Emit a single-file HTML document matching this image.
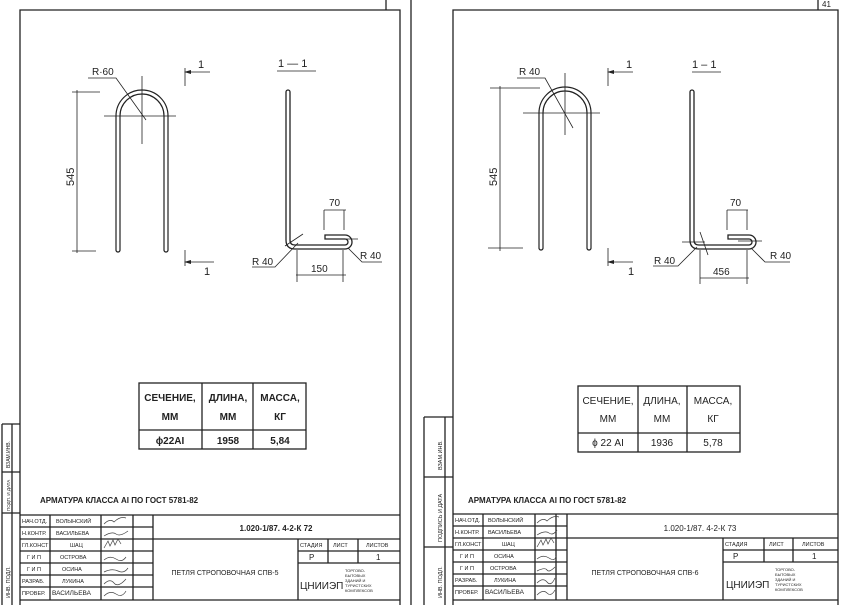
<!DOCTYPE html>
<html><head><meta charset="utf-8"><style>
body{margin:0;background:#fff;}
svg{display:block;font-family:"Liberation Sans",sans-serif;}
</style></head><body>
<svg width="841" height="605" viewBox="0 0 841 605" xmlns="http://www.w3.org/2000/svg">
<rect width="841" height="605" fill="#fff"/>
<g stroke="#222" fill="none" stroke-width="1.3">
<path d="M20 605 V10 H400 V605"/>
<path d="M411 0 V605"/>
<path d="M386 0 V10"/>
<path d="M2 424 H20 M2 472 H20 M2 513 H20 M2 424 V605 M12 424 V605"/>
<path d="M116 250 V116 A26 26 0 0 1 168 116 V250" stroke-width="1.2"/>
<path d="M120 250 V116 A22 22 0 0 1 164 116 V250" stroke-width="1.2"/>
<path d="M116 250 A2 2 0 0 0 120 250 M164 250 A2 2 0 0 0 168 250"/>
<g stroke-width="0.8">
<path d="M104 116 H176 M142 76 V144"/>
<path d="M77 90 V253 M72 92 H100 M72 251 H96"/>
<path d="M88 78 H116 L146 120"/>
<path d="M185 68 V86 M185 72 H210 M185 250 V266 M185 262 H214"/>
<path d="M277 71 H316"/>
<path d="M324 210 H346 M324 210 V230 M344 210 V230"/>
<path d="M296 275 H346 M297 250 V282 M343 250 V282"/>
<path d="M252 267 H275 L298 243 M285 246 L303 234"/>
<path d="M348 248 L362 262 H382"/>
<path d="M336 239 H358"/>
</g>
<path d="M286 92 V240 Q286 249 295 249 H345 A7 7 0 0 0 345 235 H325 V239 H345 A3 3 0 0 1 345 245 H295 Q290 245 290 240 V92 A2 2 0 0 0 286 92"/>
<rect x="139" y="383" width="167" height="66"/>
<path d="M139 430 H306 M202 383 V449 M253 383 V449"/>
<path d="M20 515 H400 M20 527 H153 M20 539 H400 M20 551 H153 M20 563 H153 M20 575 H153 M20 587 H153"/>
<path d="M50 515 V600 M101 515 V600 M133 515 V600 M153 515 V600"/>
<path d="M298 539 V600 M298 551 H400 M298 563 H400 M328 539 V563 M358 539 V563 M20 600 H400"/>
<path d="M453 605 V10 H838 V605"/>
<path d="M818 0 V10"/>
<path d="M424 417 H453 M424 477 H453 M424 547 H453 M424 417 V605 M445 417 V605"/>
<path d="M539 248 V113 A26 26 0 0 1 591 113 V248" stroke-width="1.2"/>
<path d="M543 248 V113 A22 22 0 0 1 587 113 V248" stroke-width="1.2"/>
<path d="M539 248 A2 2 0 0 0 543 248 M587 248 A2 2 0 0 0 591 248"/>
<g stroke-width="0.8">
<path d="M523 113 H600 M565 73 V135"/>
<path d="M500 86 V251 M490 88 H540 M488 248 H523"/>
<path d="M517 78 H545 L573 128"/>
<path d="M608 68 V86 M608 72 H633 M608 248 V266 M608 262 H633"/>
<path d="M692 72 H721"/>
<path d="M727 210 H748 M727 210 V230 M747 210 V230"/>
<path d="M700 278 H749 M700 250 V284 M747 250 V284"/>
<path d="M653 266 H678 L697 247 M682 242 L705 242 M700 232 L708 255"/>
<path d="M751 248 L765 262 H790"/>
<path d="M738 241 H762"/>
</g>
<path d="M690 92 V240 Q690 249 699 249 H749 A7 7 0 0 0 749 235 H728 V239 H749 A3 3 0 0 1 749 245 H699 Q694 245 694 240 V92 A2 2 0 0 0 690 92"/>
<rect x="578" y="386" width="162" height="66"/>
<path d="M578 433 H740 M638 386 V452 M687 386 V452"/>
<path d="M453 514 H838 M453 526 H567 M453 538 H838 M453 550 H567 M453 562 H567 M453 574 H567 M453 586 H567"/>
<path d="M483 514 V600 M535 514 V600 M556 514 V600 M567 514 V600"/>
<path d="M723 538 V600 M723 550 H838 M723 562 H838 M764 538 V562 M793 538 V562 M453 600 H838"/>
</g>
<g fill="#222">
<path d="M184 72 l7 -2 v4z M184 262 l7 -2 v4z M607 72 l7 -2 v4z M607 262 l7 -2 v4z"/>
</g>
<g fill="#222" font-size="10">
<text x="92" y="75" font-size="10">R·60</text>
<text transform="translate(74 186) rotate(-90)" font-size="11">545</text>
<text x="198" y="68" font-size="11">1</text>
<text x="204" y="275" font-size="11">1</text>
<text x="278" y="67" font-size="11">1 — 1</text>
<text x="329" y="206" font-size="10">70</text>
<text x="311" y="272" font-size="10">150</text>
<text x="252" y="265" font-size="10">R 40</text>
<text x="360" y="259" font-size="10">R 40</text>
<text x="519" y="75" font-size="10">R  40</text>
<text transform="translate(497 186) rotate(-90)" font-size="11">545</text>
<text x="626" y="68" font-size="11">1</text>
<text x="628" y="275" font-size="11">1</text>
<text x="692" y="68" font-size="11">1 – 1</text>
<text x="730" y="206" font-size="10">70</text>
<text x="713" y="275" font-size="10">456</text>
<text x="654" y="264" font-size="10">R 40</text>
<text x="770" y="259" font-size="10">R 40</text>
<text x="822" y="7" font-size="8">41</text>
</g>
<g fill="#222" font-size="10" text-anchor="middle" font-weight="bold">
<text x="170" y="401">СЕЧЕНИЕ,</text><text x="170" y="420">ММ</text>
<text x="228" y="401">ДЛИНА,</text><text x="228" y="420">ММ</text>
<text x="280" y="401">МАССА,</text><text x="280" y="420">КГ</text>
<text x="170" y="444">ϕ22АI</text><text x="228" y="444">1958</text><text x="280" y="444">5,84</text>
<text x="608" y="404" font-weight="normal">СЕЧЕНИЕ,</text><text x="608" y="422" font-weight="normal">ММ</text>
<text x="662" y="404" font-weight="normal">ДЛИНА,</text><text x="662" y="422" font-weight="normal">ММ</text>
<text x="713" y="404" font-weight="normal">МАССА,</text><text x="713" y="422" font-weight="normal">КГ</text>
<text x="608" y="446" font-weight="normal">ϕ 22 АI</text><text x="662" y="446" font-weight="normal">1936</text><text x="713" y="446" font-weight="normal">5,78</text>
</g>
<g fill="#222" font-size="8" font-weight="bold">
<text x="40" y="503">АРМАТУРА КЛАССА АI ПО ГОСТ 5781-82</text>
<text x="468" y="503">АРМАТУРА КЛАССА АI ПО ГОСТ 5781-82</text>
<text x="276" y="531" text-anchor="middle">1.020-1/87. 4-2-К 72</text>
<text x="700" y="531" text-anchor="middle" font-weight="normal">1.020-1/87. 4-2-К 73</text>
<text x="225" y="575" text-anchor="middle" font-weight="normal" font-size="7">ПЕТЛЯ СТРОПОВОЧНАЯ СПВ-5</text>
<text x="645" y="575" text-anchor="middle" font-weight="normal" font-size="7">ПЕТЛЯ СТРОПОВОЧНАЯ СПВ-6</text>
</g>
<g fill="#222" font-size="5.5">
<text x="22" y="523">НАЧ.ОТД.</text><text x="56" y="523">ВОЛЫНСКИЙ</text>
<text x="22" y="535">Н.КОНТР.</text><text x="56" y="535">ВАСИЛЬЕВА</text>
<text x="22" y="547">ГЛ.КОНСТ</text><text x="70" y="547">ШАЦ</text>
<text x="27" y="559">Г И П</text><text x="60" y="559">ОСТРОВА</text>
<text x="27" y="571">Г И П</text><text x="62" y="571">ОСИНА</text>
<text x="22" y="583">РАЗРАБ.</text><text x="62" y="583">ЛУКИНА</text>
<text x="22" y="595">ПРОВЕР.</text><text x="52" y="595" font-size="6.5">ВАСИЛЬЕВА</text>
<text x="300" y="547">СТАДИЯ</text><text x="333" y="547">ЛИСТ</text><text x="366" y="547">ЛИСТОВ</text>
<text x="309" y="560" font-size="8">Р</text><text x="376" y="560" font-size="8">1</text>
<text x="300" y="589" font-size="10">ЦНИИЭП</text>
<text x="345" y="572" font-size="4">ТОРГОВО-</text><text x="345" y="577" font-size="4">БЫТОВЫХ</text><text x="345" y="582" font-size="4">ЗДАНИЙ И</text><text x="345" y="587" font-size="4">ТУРИСТСКИХ</text><text x="345" y="592" font-size="4">КОМПЛЕКСОВ</text>
<text x="455" y="522">НАЧ.ОТД.</text><text x="488" y="522">ВОЛЫНСКИЙ</text>
<text x="455" y="534">Н.КОНТР.</text><text x="488" y="534">ВАСИЛЬЕВА</text>
<text x="455" y="546">ГЛ.КОНСТ</text><text x="502" y="546">ШАЦ</text>
<text x="460" y="558">Г И П</text><text x="494" y="558">ОСИНА</text>
<text x="460" y="570">Г И П</text><text x="490" y="570">ОСТРОВА</text>
<text x="455" y="582">РАЗРАБ.</text><text x="494" y="582">ЛУКИНА</text>
<text x="455" y="594">ПРОВЕР.</text><text x="485" y="594" font-size="6.5">ВАСИЛЬЕВА</text>
<text x="725" y="546">СТАДИЯ</text><text x="769" y="546">ЛИСТ</text><text x="802" y="546">ЛИСТОВ</text>
<text x="733" y="559" font-size="8">Р</text><text x="812" y="559" font-size="8">1</text>
<text x="726" y="588" font-size="10">ЦНИИЭП</text>
<text x="775" y="571" font-size="4">ТОРГОВО-</text><text x="775" y="576" font-size="4">БЫТОВЫХ</text><text x="775" y="581" font-size="4">ЗДАНИЙ И</text><text x="775" y="586" font-size="4">ТУРИСТСКИХ</text><text x="775" y="591" font-size="4">КОМПЛЕКСОВ</text>
<text transform="translate(442 470) rotate(-90)" font-size="5.5">ВЗАМ.ИНВ.</text>
<text transform="translate(442 542) rotate(-90)" font-size="5.5">ПОДПИСЬ И ДАТА</text>
<text transform="translate(442 598) rotate(-90)" font-size="5.5">ИНВ. ПОДЛ.</text>
<text transform="translate(10 468) rotate(-90)" font-size="5">ВЗАМ.ИНВ.</text>
<text transform="translate(10 511) rotate(-90)" font-size="4.5">ПОДП. И ДАТА</text>
<text transform="translate(10 598) rotate(-90)" font-size="5.5">ИНВ. ПОДЛ.</text>
</g>
<g stroke="#444" stroke-width="0.7" fill="none">
<path d="M104 524 q6 -6 10 -2 q6 -6 12 -4 M104 536 q8 -5 12 -2 t12 -3 M104 548 l4 -7 l2 5 l3 -6 l2 5 l3 -6 l3 5 M104 560 q6 -5 12 -1 t10 -2 M104 572 q8 -4 14 -1 t10 -3 M104 584 q6 -6 10 -1 t12 -4 M104 596 q6 -6 12 -2 t10 -3"/>
<path d="M537 523 q6 -6 10 -2 q6 -6 12 -4 M537 535 q8 -5 12 -2 t8 -3 M537 547 l4 -7 l2 5 l3 -6 l2 5 l3 -6 l3 5 M537 559 q6 -5 12 -1 t7 -2 M537 571 q8 -4 10 -1 t8 -3 M537 583 q6 -6 10 -1 t8 -4 M537 595 q6 -6 10 -2 t8 -3"/>
</g>
</svg>
</body></html>
